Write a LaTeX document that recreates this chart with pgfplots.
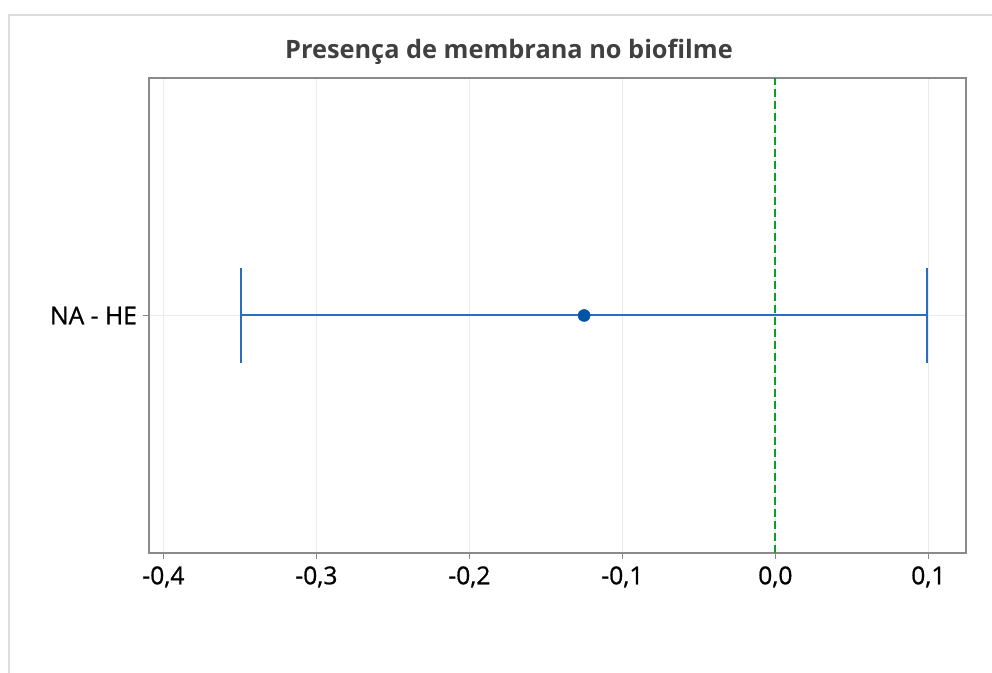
\documentclass[border=0pt]{standalone}
\usepackage{pgfplots}
\pgfplotsset{compat=1.18}
\usepackage{fontspec}
\setmainfont{Open Sans}
\newfontfamily\tickfont{Open Sans}[FakeBold=0.8]
\definecolor{ciblue}{HTML}{2A6EC0}
\definecolor{ptblue}{HTML}{0054A6}
\definecolor{outerframe}{HTML}{DDDDDD}
\definecolor{axgray}{HTML}{8A8A8A}
\definecolor{gridgray}{HTML}{EBEBEB}
\definecolor{titlegray}{HTML}{404040}
\begin{document}
\begin{tikzpicture}
\useasboundingbox (-111.75pt,-90pt) rectangle (632.25pt,414.75pt);
\draw[outerframe, line width=1.2pt] (-105pt,-90pt) -- (-105pt,403.5pt) -- (632.25pt,403.5pt);
\begin{axis}[
  at={(0pt,0pt)}, anchor=south west,
  scale only axis, width=612.75pt, height=356.25pt,
  xmin=-0.4094, xmax=0.1246, ymin=0, ymax=2,
  xtick={-0.4,-0.3,-0.2,-0.1,0,0.1},
  xticklabels={{-0,4},{-0,3},{-0,2},{-0,1},{0,0},{0,1}},
  ytick={1}, yticklabels={NA - HE},
  xtick pos=lower, ytick pos=left,
  tick align=outside, major tick length=4.5pt,
  tick style={axgray, line width=0.8pt},
  axis line style={axgray, line width=1.1pt},
  xmajorgrids, ymajorgrids,
  grid style={gridgray, line width=0.8pt},
  ticklabel style={font=\tickfont\fontsize{18.5}{22}\selectfont, text=black},
  xticklabel style={yshift=-2pt},
  yticklabel style={xshift=-1pt},
  clip=false,
]
\addplot[draw=ciblue, line width=1.5pt] coordinates {(-0.349,1) (0.099,1)};
\addplot[draw=ciblue, line width=1.5pt] coordinates {(-0.349,0.798) (-0.349,1.202)};
\addplot[draw=ciblue, line width=1.5pt] coordinates {(0.099,0.798) (0.099,1.202)};
\addplot[only marks, mark=*, mark size=4.5pt, color=ptblue] coordinates {(-0.125,1)};
\addplot[draw={rgb,255:red,10;green,160;blue,40}, line width=1.5pt, dash pattern=on 6pt off 3pt, mark=none] coordinates {(0,0) (0,2)};
\node[anchor=base, font=\fontsize{19}{23}\selectfont\bfseries, text=titlegray] at ([yshift=14.25pt]rel axis cs:0.4406,1) {Presença de membrana no biofilme};
\end{axis}
\end{tikzpicture}
\end{document}
